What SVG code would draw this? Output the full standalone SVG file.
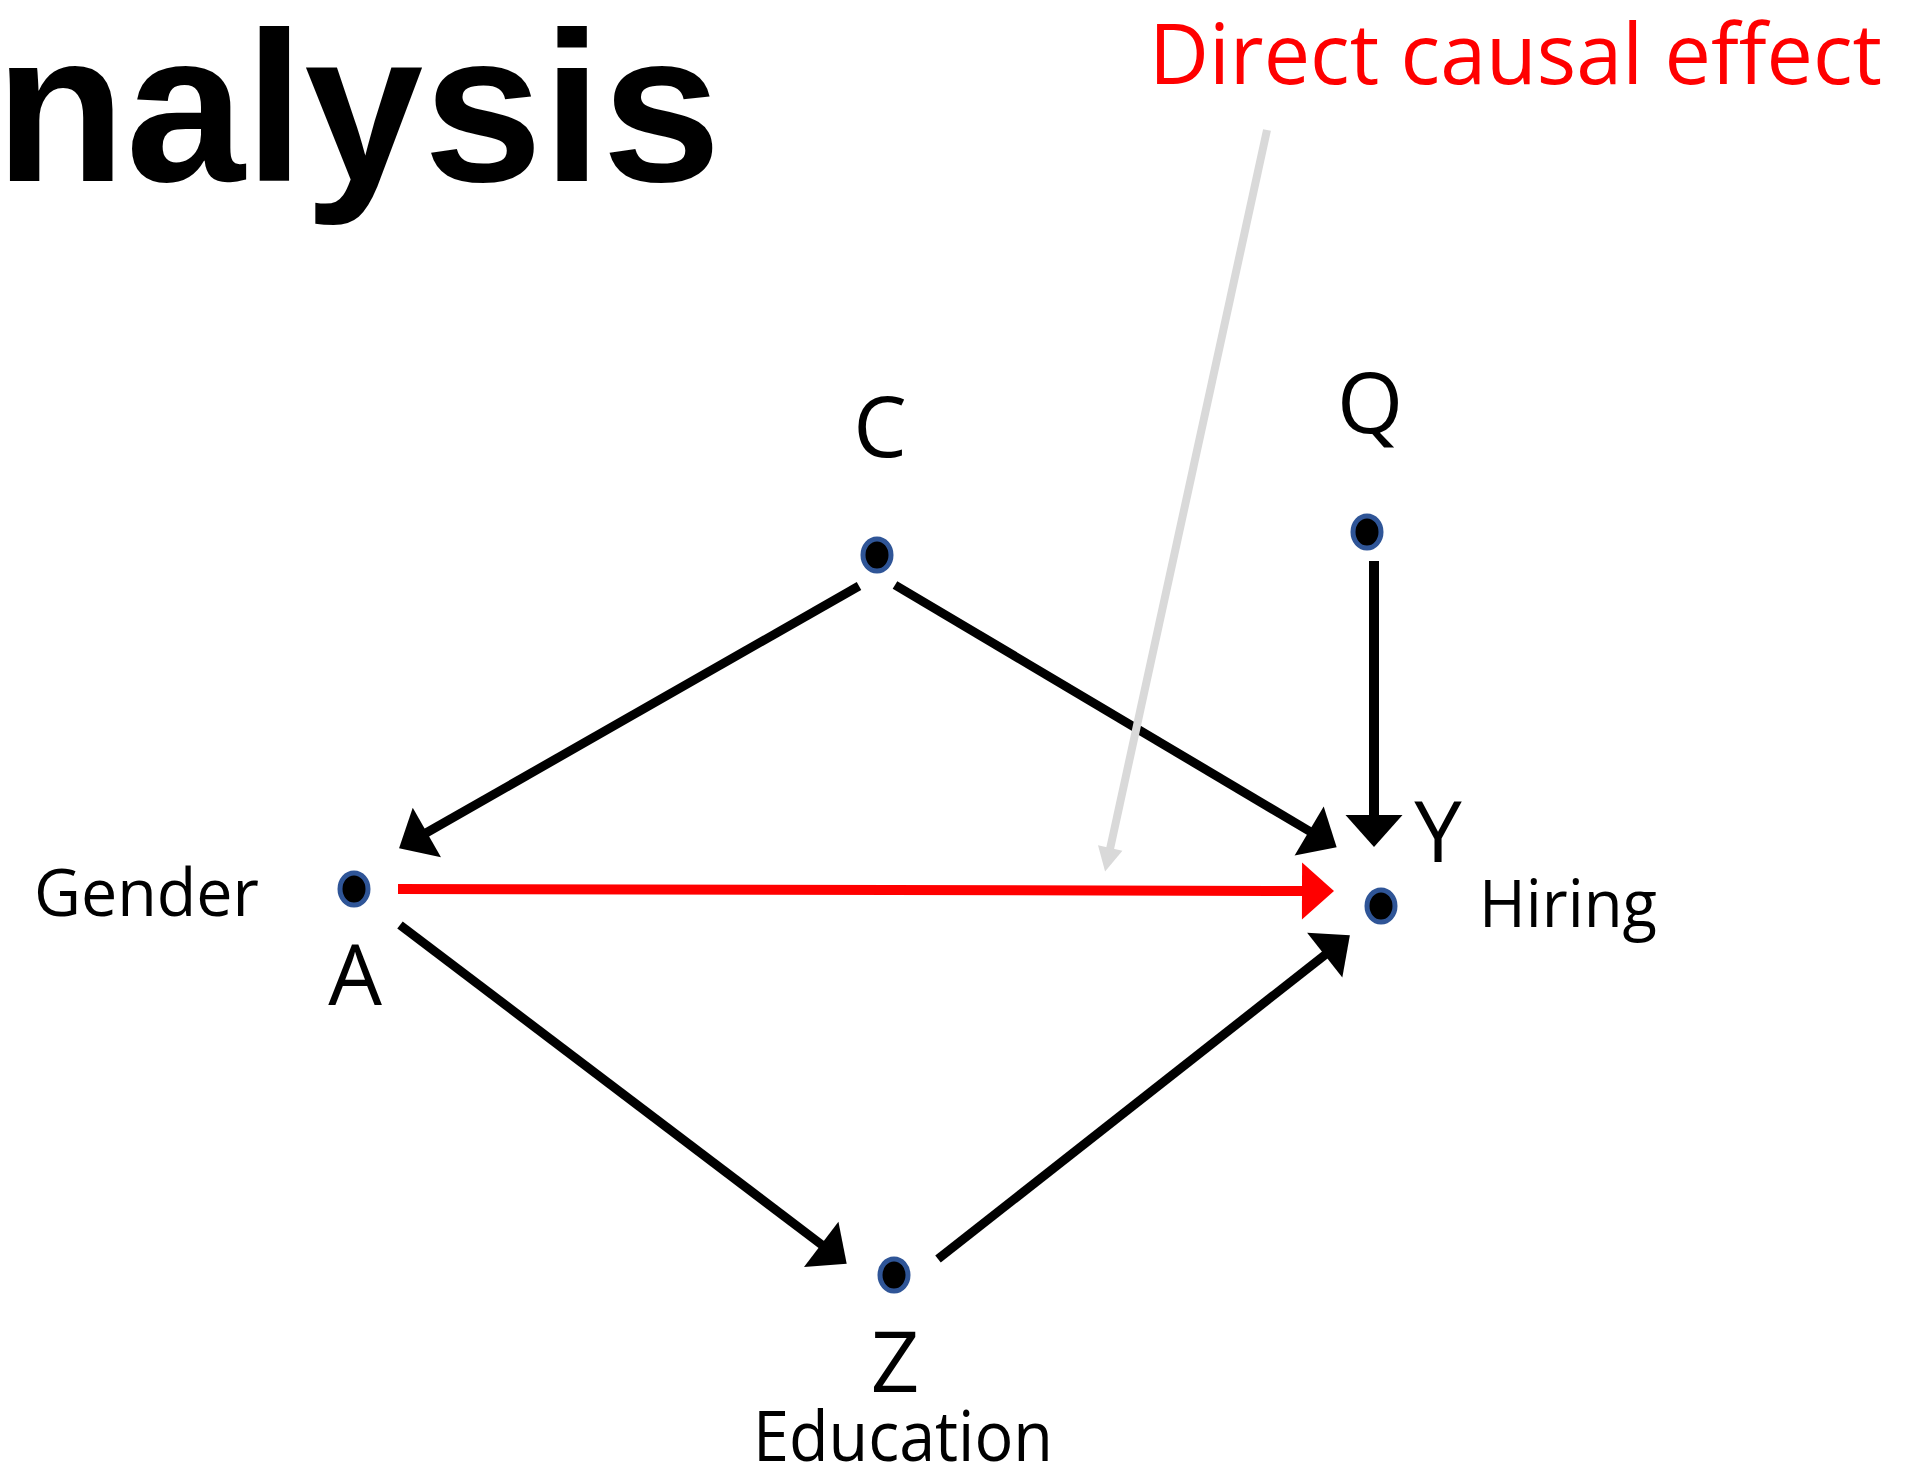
<svg xmlns="http://www.w3.org/2000/svg" width="1906" height="1477" viewBox="0 0 1906 1477">
<style>
.lbl{font-family:"Open Sans","Noto Sans","DejaVu Sans",sans-serif;fill:#000}
.big{font-size:85px;text-anchor:middle}
.word{font-size:66px}
.node{fill:#000;stroke:#2f5597;stroke-width:5}
.edge{stroke:#000;stroke-width:9;fill:none;marker-end:url(#ah)}
</style>
<defs>
<marker id="ah" markerUnits="userSpaceOnUse" markerWidth="32" markerHeight="57" viewBox="0 0 32 57" refX="1" refY="28.5" orient="auto" overflow="visible">
<path d="M0,0 L32,28.5 L0,57 Z" fill="#000"/>
</marker>
<marker id="ahr" markerUnits="userSpaceOnUse" markerWidth="32" markerHeight="57" viewBox="0 0 32 57" refX="1" refY="28.5" orient="auto" overflow="visible">
<path d="M0,0 L32,28.5 L0,57 Z" fill="#ff0000"/>
</marker>
<marker id="ahg" markerUnits="userSpaceOnUse" markerWidth="24" markerHeight="25" viewBox="0 0 24 25" refX="1" refY="12.5" orient="auto" overflow="visible">
<path d="M0,0 L24,12.5 L0,25 Z" fill="#d9d9d9"/>
</marker>
</defs>
<rect width="1906" height="1477" fill="#fff"/>
<text x="-5" y="181" font-family="'Liberation Sans',Arial,sans-serif" font-weight="bold" font-size="214" textLength="726" lengthAdjust="spacing">nalysis</text>
<text x="1149" y="84" font-family="'Open Sans','Noto Sans',sans-serif" font-size="85" fill="#ff0000" textLength="733" lengthAdjust="spacingAndGlyphs">Direct causal effect</text>
<g id="connectors">
<line class="edge" x1="859" y1="586" x2="426" y2="833"/>
<line class="edge" x1="895" y1="585" x2="1310" y2="831.5"/>
<line class="edge" x1="1374" y1="561" x2="1374" y2="816" style="stroke-width:10"/>
<line class="edge" x1="400" y1="925" x2="822" y2="1245"/>
<line class="edge" x1="938" y1="1259" x2="1325.5" y2="954.5"/>
<line x1="398" y1="889" x2="1303" y2="891" stroke="#ff0000" stroke-width="10" marker-end="url(#ahr)"/>
<line x1="1267" y1="130" x2="1110" y2="849" stroke="#d9d9d9" stroke-width="8" marker-end="url(#ahg)"/>
</g>
<g id="node-C">
<ellipse class="node" cx="877" cy="555" rx="14" ry="16"/>
<text class="lbl big" x="880" y="457">C</text>
</g>
<g id="node-Q">
<ellipse class="node" cx="1367" cy="532" rx="14" ry="16"/>
<text class="lbl big" x="1370" y="433">Q</text>
</g>
<g id="node-A">
<ellipse class="node" cx="354" cy="889" rx="14" ry="16"/>
<text class="lbl big" x="355" y="1005">A</text>
<text class="lbl word" x="34" y="916" textLength="225" lengthAdjust="spacingAndGlyphs">Gender</text>
</g>
<g id="node-Y">
<ellipse class="node" cx="1381" cy="906" rx="14" ry="16"/>
<text class="lbl big" x="1438" y="862">Y</text>
<text class="lbl word" x="1479" y="927" textLength="178" lengthAdjust="spacingAndGlyphs">Hiring</text>
</g>
<g id="node-Z">
<ellipse class="node" cx="894" cy="1275" rx="14" ry="16"/>
<text class="lbl big" x="895" y="1392">Z</text>
<text class="lbl" x="753" y="1461" font-size="70" textLength="300" lengthAdjust="spacingAndGlyphs">Education</text>
</g>
</svg>
